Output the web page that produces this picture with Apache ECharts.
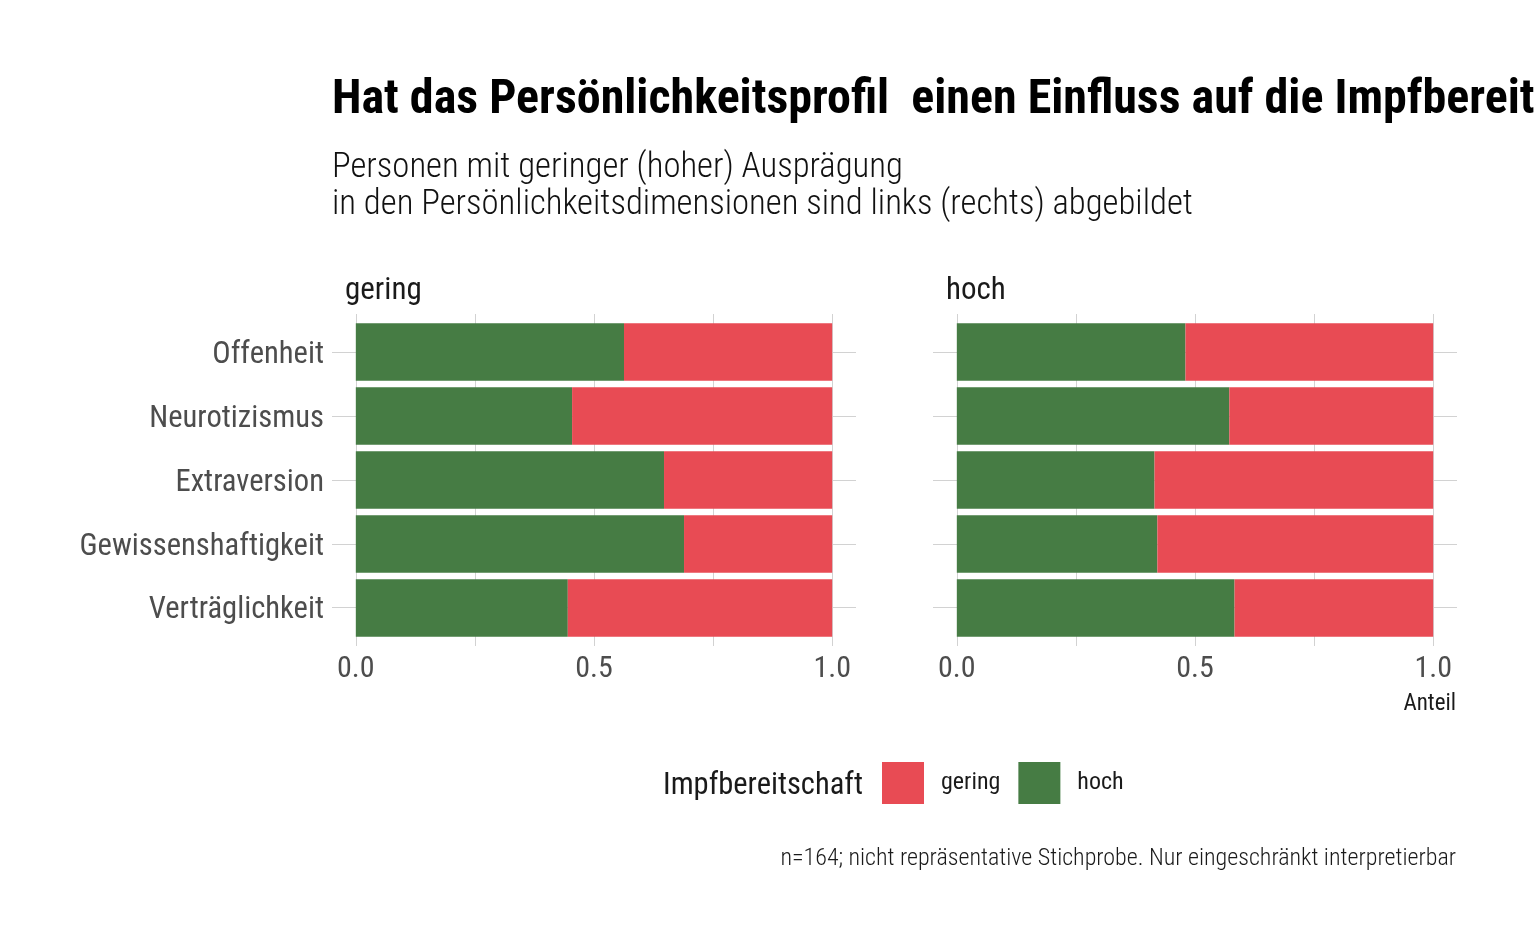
<!DOCTYPE html>
<html>
<head>
<meta charset="utf-8">
<script src="https://cdn.jsdelivr.net/npm/echarts@6/dist/echarts.min.js"></script>
<style>
  body { margin: 0; background: #fff; }
  #chart { width: 1536px; height: 949px; }
</style>
</head>
<body>
<div id="chart"></div>
<script>
// categories (top to bottom) and shares per panel
const dimensions = ["Offenheit", "Neurotizismus", "Extraversion", "Gewissenshaftigkeit", "Verträglichkeit"];
const panels = ["gering", "hoch"];
const hochLeft = [0.563, 0.454, 0.647, 0.689, 0.445];
const geringLeft = [0.437, 0.546, 0.353, 0.311, 0.555];
const hochRight = [0.480, 0.572, 0.415, 0.421, 0.583];
const geringRight = [0.520, 0.428, 0.585, 0.579, 0.417];
const xGridTicks = [0, 0.25, 0.5, 0.75, 1];
const xLabelTicks = [0, 0.5, 1];
const yPositions = [1, 2, 3, 4, 5];

const FONT = '"Roboto Condensed", Roboto, sans-serif';
const RED = "#e84b54";
const GREEN = "#467c44";
const GRIDCOL = "#d2d2d2";

function panelGrids(left) {
  // background panel (ggplot expansion) + data panel for the bars
  return [
    { left: left, top: 314, width: 524, height: 332 },
    { left: left, top: 320, width: 524, height: 320 }
  ];
}

function bgX(gridIndex) {
  return {
    type: "value", gridIndex: gridIndex, min: -0.05, max: 1.05,
    axisLine: { show: false },
    axisTick: { show: false, customValues: xGridTicks },
    axisLabel: {
      customValues: xLabelTicks, margin: 8,
      formatter: v => v.toFixed(1),
      color: "#4d4d4d", fontSize: 30, fontFamily: FONT
    },
    splitLine: { show: true, lineStyle: { color: GRIDCOL, width: 1 } }
  };
}

function bgY(gridIndex, showLabels) {
  return {
    type: "value", gridIndex: gridIndex, min: 0.4, max: 5.6, inverse: true,
    axisLine: { show: false },
    axisTick: { show: false, customValues: yPositions },
    axisLabel: {
      show: showLabels, customValues: yPositions, margin: 8,
      verticalAlign: "top", lineHeight: 6,
      formatter: v => dimensions[Math.round(v) - 1],
      color: "#4d4d4d", fontSize: 30.6, fontFamily: FONT
    },
    splitLine: { show: true, lineStyle: { color: GRIDCOL, width: 1 } }
  };
}

function dataX(gridIndex) {
  return { type: "value", gridIndex: gridIndex, min: -0.05, max: 1.05, show: false, splitLine: { show: false } };
}

function dataY(gridIndex) {
  return { type: "category", gridIndex: gridIndex, data: dimensions, inverse: true, show: false };
}

function bars(name, values, color, axisIndex, stack) {
  return {
    name: name, type: "bar", stack: stack,
    xAxisIndex: axisIndex, yAxisIndex: axisIndex,
    barCategoryGap: "10%",
    itemStyle: { color: color },
    data: values
  };
}

let chart = echarts.init(document.getElementById("chart")),
  option;

option = {
  animation: false,
  backgroundColor: "#fff",
  title: [
    {
      text: "Hat das Persönlichkeitsprofil  einen Einfluss auf die Impfbereitschaft?",
      left: 332, top: 77, padding: 0,
      textStyle: { fontFamily: FONT, fontWeight: "bold", fontSize: 48, color: "#000" }
    },
    {
      text: "Personen mit geringer (hoher) Ausprägung\nin den Persönlichkeitsdimensionen sind links (rechts) abgebildet",
      left: 332, top: 150, padding: 0,
      textStyle: { fontFamily: FONT, fontWeight: 300, fontSize: 34.7, lineHeight: 37, color: "#111" }
    },
    {
      text: panels[0], left: 345, top: 276, padding: 0,
      textStyle: { fontFamily: FONT, fontWeight: "normal", fontSize: 31, color: "#1a1a1a" }
    },
    {
      text: panels[1], left: 946, top: 276, padding: 0,
      textStyle: { fontFamily: FONT, fontWeight: "normal", fontSize: 31, color: "#1a1a1a" }
    },
    {
      text: "Anteil", right: 80, top: 693, padding: 0,
      textStyle: { fontFamily: FONT, fontWeight: "normal", fontSize: 23, color: "#1a1a1a" }
    },
    {
      text: "Impfbereitschaft", left: 663, top: 771, padding: 0,
      textStyle: { fontFamily: FONT, fontWeight: "normal", fontSize: 30.5, color: "#1a1a1a" }
    },
    {
      text: "n=164; nicht repräsentative Stichprobe. Nur eingeschränkt interpretierbar",
      right: 80, top: 847, padding: 0,
      textStyle: { fontFamily: FONT, fontWeight: 300, fontSize: 24, color: "#1a1a1a" }
    }
  ],
  legend: {
    data: ["gering", "hoch"],
    left: 882, top: 762, padding: 0,
    icon: "rect", itemWidth: 42, itemHeight: 42, itemGap: 18,
    selectedMode: false,
    textStyle: { fontFamily: FONT, fontSize: 24, color: "#1a1a1a", padding: [3, 0, 0, 12] }
  },
  grid: panelGrids(332).concat(panelGrids(933)),
  xAxis: [bgX(0), dataX(1), bgX(2), dataX(3)],
  yAxis: [bgY(0, true), dataY(1), bgY(2, false), dataY(3)],
  series: [
    bars("hoch", hochLeft, GREEN, 1, "left"),
    bars("gering", geringLeft, RED, 1, "left"),
    bars("hoch", hochRight, GREEN, 3, "right"),
    bars("gering", geringRight, RED, 3, "right")
  ]
};

if (option && typeof option === "object") chart.setOption(option);
window.addEventListener("resize", function () {
  chart.resize();
});
</script>
</body>
</html>
